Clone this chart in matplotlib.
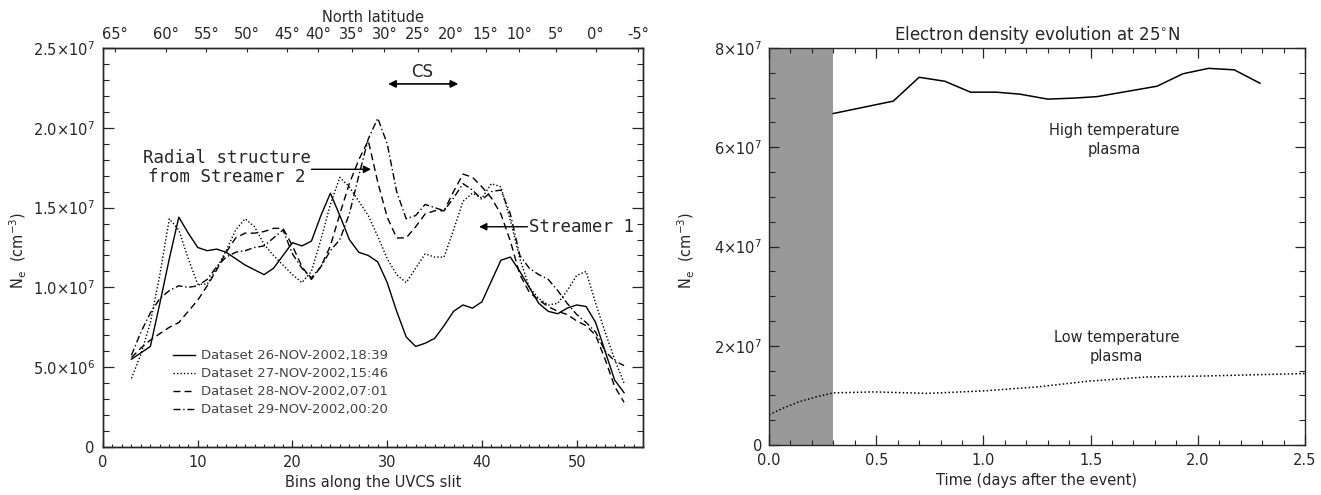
import numpy as np
import matplotlib
matplotlib.use("Agg")
import matplotlib.pyplot as plt
from matplotlib.ticker import MultipleLocator

# ---------------- data ----------------
# Left panel: electron density (units of 1e6 cm^-3) along the UVCS slit
bins = list(range(3, 56))
ne_26nov = [5.5, 5.9, 6.3, 9.0, 11.8, 14.4, 13.4, 12.5, 12.3, 12.4, 12.2, 11.8, 11.4,
            11.1, 10.8, 11.2, 12.0, 12.8, 12.6, 12.9, 14.5, 15.9, 14.5, 13.0, 12.2, 12.0,
            11.6, 10.3, 8.5, 6.9, 6.3, 6.5, 6.8, 7.6, 8.5, 8.9, 8.7, 9.1, 10.4, 11.7, 11.9,
            11.0, 10.0, 9.0, 8.5, 8.35, 8.7, 8.9, 8.8, 7.8, 6.0, 4.2, 3.4]
ne_27nov = [4.3, 5.8, 7.8, 10.8, 14.3, 13.6, 11.8, 10.2, 10.2, 11.2, 12.3, 13.6, 14.3,
            13.8, 12.7, 12.0, 11.4, 10.8, 10.3, 11.0, 13.0, 15.2, 16.9, 16.3, 15.4, 14.5,
            13.2, 11.8, 10.8, 10.3, 11.2, 12.1, 11.9, 11.9, 13.6, 15.4, 15.9, 15.6, 16.5,
            16.3, 14.2, 11.8, 10.0, 9.3, 8.9, 9.0, 9.8, 10.75, 11.0, 9.0, 7.2, 5.5, 4.0]
ne_28nov = [5.6, 6.2, 6.7, 7.1, 7.5, 7.8, 8.5, 9.2, 10.1, 11.1, 12.2, 13.1, 13.4,
            13.4, 13.5, 13.7, 13.7, 12.6, 11.3, 10.5, 11.3, 12.6, 14.6, 16.5, 18.0, 19.2,
            16.6, 14.4, 13.1, 13.1, 13.8, 14.6, 14.8, 14.8, 16.0, 17.1, 16.9, 16.3, 15.6,
            14.6, 12.9, 10.8, 9.7, 9.2, 8.8, 8.5, 8.3, 7.9, 7.6, 7.0, 5.5, 3.8, 2.8]
ne_29nov = [5.75, 7.2, 8.4, 9.3, 9.8, 10.1, 10.0, 10.1, 10.5, 11.3, 11.9, 12.2, 12.3,
            12.5, 12.6, 13.1, 13.6, 12.1, 11.2, 10.6, 11.3, 12.3, 13.0, 14.6, 17.0, 19.3,
            20.6, 19.0, 16.0, 14.3, 14.5, 15.2, 15.0, 14.8, 15.6, 16.5, 16.1, 15.5, 16.0,
            16.1, 14.6, 12.0, 11.2, 10.8, 10.5, 9.8, 9.0, 8.3, 7.8, 7.2, 6.0, 5.4, 5.1]
dataset_labels = ["Dataset 26-NOV-2002,18:39", "Dataset 27-NOV-2002,15:46",
                  "Dataset 28-NOV-2002,07:01", "Dataset 29-NOV-2002,00:20"]

# Latitude scale along the top of the left panel (bin position of each label)
lat_labels = ["65°", "60°", "55°", "50°", "45°", "40°", "35°", "30°",
              "25°", "20°", "15°", "10°", "5°", "0°", "-5°"]
lat_bins = [1.3, 6.6, 10.9, 15.2, 19.4, 22.7, 26.3, 29.7,
            33.2, 36.7, 40.4, 43.9, 47.8, 52.0, 56.5]

left_yticks = [0, 5e6, 1e7, 1.5e7, 2e7, 2.5e7]
left_yticklabels = ["0", r"$5.0{\times}10^{6}$", r"$1.0{\times}10^{7}$",
                    r"$1.5{\times}10^{7}$", r"$2.0{\times}10^{7}$", r"$2.5{\times}10^{7}$"]

# Right panel: density evolution at 25 N (units of 1e7 cm^-3)
t_hot = [0.30, 0.58, 0.70, 0.82, 0.94, 1.06, 1.17, 1.30, 1.42, 1.53, 1.65, 1.81,
         1.93, 2.05, 2.17, 2.29]
ne_hot = [6.68, 6.93, 7.41, 7.33, 7.11, 7.11, 7.07, 6.97, 6.99, 7.02, 7.11, 7.23,
          7.48, 7.59, 7.56, 7.29]
t_cold = [0.0, 0.07, 0.14, 0.22, 0.30, 0.49, 0.74, 1.00, 1.25, 1.50, 1.76, 2.03, 2.5]
ne_cold = [0.61, 0.75, 0.87, 0.97, 1.05, 1.07, 1.04, 1.09, 1.17, 1.29, 1.37, 1.39, 1.44]
event_window = (0.0, 0.30)

right_yticks = [0, 2e7, 4e7, 6e7, 8e7]
right_yticklabels = ["0", r"$2{\times}10^{7}$", r"$4{\times}10^{7}$",
                     r"$6{\times}10^{7}$", r"$8{\times}10^{7}$"]
right_xticks = [0.0, 0.5, 1.0, 1.5, 2.0, 2.5]
right_xticklabels = ["0.0", "0.5", "1.0", "1.5", "2.0", "2.5"]

# ---------------- style ----------------
INK = "#262626"
plt.rcParams.update({
    "font.family": ["DejaVu Sans"],
    "font.size": 10.5,
    "text.color": INK,
    "axes.edgecolor": INK,
    "axes.labelcolor": INK,
    "xtick.color": INK,
    "ytick.color": INK,
    "axes.linewidth": 1.0,
})

W, H = 1321, 495
fig = plt.figure(figsize=(W / 100, H / 100), dpi=100)


def box(x0, y0, x1, y1):
    return [x0 / W, 1 - y1 / H, (x1 - x0) / W, (y1 - y0) / H]


# ================= left panel =================
axL = fig.add_axes(box(103, 48, 643, 447))
scale = 1e6
styles = ["-", (0, (1, 1.5)), (0, (5, 3)), (0, (5, 2, 1, 2))]
series = [ne_26nov, ne_27nov, ne_28nov, ne_29nov]
handles = []
for vals, ls, lab in zip(series, styles, dataset_labels):
    h, = axL.plot(bins, np.array(vals) * scale, color="black", lw=1.0, ls=ls, label=lab)
    handles.append(h)

axL.set_xlim(0, 57)
axL.set_ylim(0, 2.5e7)
axL.xaxis.set_major_locator(MultipleLocator(10))
axL.xaxis.set_minor_locator(MultipleLocator(1))
axL.set_yticks(left_yticks)
axL.set_yticklabels(left_yticklabels)
axL.yaxis.set_minor_locator(MultipleLocator(1e6))
axL.tick_params(axis="x", which="major", direction="in", length=5, width=0.9,
                top=False, pad=6, labelsize=10.5)
axL.tick_params(axis="x", which="minor", direction="in", length=2.5, width=0.8, top=False)
axL.tick_params(axis="y", which="major", direction="in", length=8, width=0.9,
                right=True, pad=6, labelsize=10.5)
axL.tick_params(axis="y", which="minor", direction="in", length=4.5, width=0.8, right=True)
axL.set_xlabel("Bins along the UVCS slit", fontsize=10.5, labelpad=3)

top = axL.twiny()
top.set_xlim(axL.get_xlim())
top.set_xticks(lat_bins)
top.set_xticklabels(lat_labels)
top.tick_params(axis="x", direction="in", length=3, width=0.8, pad=4, labelsize=10.5)
top.set_xlabel("North latitude", fontsize=10.5, labelpad=4)

fig.text(18 / W, 1 - 250 / H, r"N$_{\rm e}$  (cm$^{-3}$)", rotation=90,
         ha="center", va="center", fontsize=10.5)

axL.legend(handles=handles, loc="upper left", bbox_to_anchor=(0.1296, 0.245),
           frameon=False, fontsize=9.5, handlelength=1.67, handletextpad=0.45,
           labelspacing=0.38, borderpad=0, borderaxespad=0, labelcolor="#444444")

mono = "DejaVu Sans Mono"
arrow_kw = dict(arrowstyle="-|>", color="black", lw=1.0, mutation_scale=11,
                shrinkA=0, shrinkB=0)
axL.annotate("", xy=(37.5, 22.75e6), xytext=(30.1, 22.75e6),
             arrowprops=dict(arrowstyle="<|-|>", color="black", lw=1.2,
                             mutation_scale=11, shrinkA=0, shrinkB=0))
axL.text(33.7, 23.5e6, "CS", ha="center", va="center", fontsize=12)

axL.text(13.1, 17.5e6, "Radial structure\nfrom Streamer 2", family=mono,
         fontsize=12.5, ha="center", va="center", multialignment="center",
         linespacing=1.1)
axL.annotate("", xy=(28.3, 17.4e6), xytext=(22.0, 17.4e6), arrowprops=arrow_kw)

axL.text(45.0, 13.8e6, "Streamer 1", family=mono, fontsize=12.5, ha="left", va="center")
axL.annotate("", xy=(39.7, 13.8e6), xytext=(44.8, 13.8e6), arrowprops=arrow_kw)

# ================= right panel =================
axR = fig.add_axes(box(769, 48, 1305, 445))
axR.axvspan(*event_window, color="#999999", lw=0, zorder=0)
axR.plot(t_hot, np.array(ne_hot) * 1e7, color="black", lw=1.1)
axR.plot(t_cold, np.array(ne_cold) * 1e7, color="black", lw=1.1, ls=(0, (1, 1.5)))

axR.set_xlim(0, 2.5)
axR.set_ylim(0, 8e7)
axR.set_xticks(right_xticks)
axR.set_xticklabels(right_xticklabels)
axR.xaxis.set_minor_locator(MultipleLocator(0.1))
axR.set_yticks(right_yticks)
axR.set_yticklabels(right_yticklabels)
axR.yaxis.set_minor_locator(MultipleLocator(0.5e7))
axR.tick_params(axis="x", which="major", direction="in", length=7, width=0.9,
                top=True, pad=6, labelsize=10.5)
axR.tick_params(axis="x", which="minor", direction="in", length=3.5, width=0.8, top=True)
axR.tick_params(axis="y", which="major", direction="in", length=7.5, width=0.9,
                right=True, pad=5, labelsize=10.5)
axR.tick_params(axis="y", which="minor", direction="in", length=4, width=0.8, right=True)
axR.set_xlabel("Time (days after the event)", fontsize=10.5, labelpad=3)
axR.set_title("Electron density evolution at 25$^{\\circ}$N", fontsize=12, pad=6)

fig.text(686 / W, 1 - 250 / H, r"N$_{\rm e}$  (cm$^{-3}$)", rotation=90,
         ha="center", va="center", fontsize=10.5)

axR.text(1.61, 6.15e7, "High temperature\nplasma", ha="center", va="center",
         fontsize=10.5, linespacing=1.35)
axR.text(1.62, 1.97e7, "Low temperature\nplasma", ha="center", va="center",
         fontsize=10.5, linespacing=1.35)

fig.savefig("out.png", dpi=100, facecolor="white")
